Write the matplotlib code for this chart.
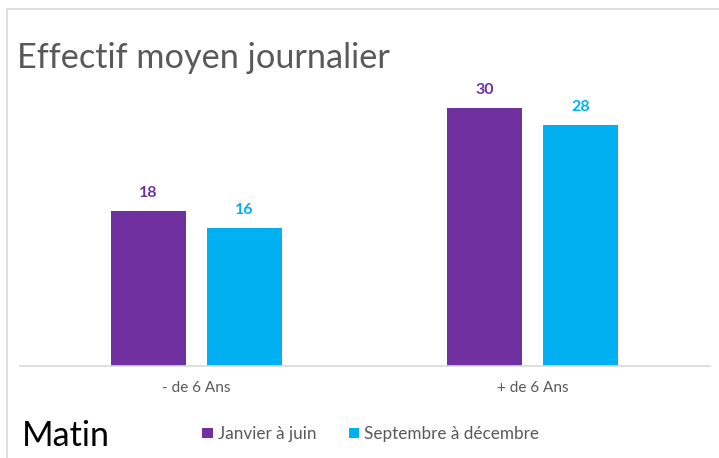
import matplotlib
matplotlib.use("Agg")
import matplotlib.pyplot as plt
from matplotlib.patches import Rectangle
import numpy as np

categories = ["- de 6 Ans", "+ de 6 Ans"]
series_names = ["Janvier à juin", "Septembre à décembre"]
janvier = [18, 30]
septembre = [16, 28]
colors = ["#7030A0", "#00B0F0"]

W, H = 719, 458
fig = plt.figure(figsize=(W / 100, H / 100), dpi=100)
plt.rcParams['font.family'] = ['Lato', 'DejaVu Sans']

# chart border
fig.patches.append(Rectangle((7 / W, -0.05), 1.1, (H - 9) / H + 0.05, transform=fig.transFigure,
                             fill=False, edgecolor="#D9D9D9", linewidth=1.2))

ax_left, ax_right, ax_bottom, ax_top = 20, 710, 366, 60
ax = fig.add_axes([ax_left / W, 1 - ax_bottom / H, (ax_right - ax_left) / W, (ax_bottom - ax_top) / H])
ymax = (ax_bottom - ax_top) / 8.6
ax.set_ylim(0, ymax)
ppu = 336.0
x0 = -(196.5 - ax_left) / ppu
ax.set_xlim(x0, x0 + (ax_right - ax_left) / ppu)

x = np.arange(len(categories))
bw = 75 / ppu
gap = 21 / ppu
off = (bw + gap) / 2
b1 = ax.bar(x - off, janvier, bw, color=colors[0], label=series_names[0])
b2 = ax.bar(x + off, septembre, bw, color=colors[1], label=series_names[1])
for bars, vals, c in [(b1, janvier, colors[0]), (b2, septembre, colors[1])]:
    for rect, v in zip(bars, vals):
        ax.annotate(f"{v}", (rect.get_x() + rect.get_width() / 2, v), xytext=(0, 8),
                    textcoords="offset points", ha="center", va="bottom",
                    fontsize=11.5, fontweight="bold", color=c)

for s in ["top", "right", "left"]:
    ax.spines[s].set_visible(False)
ax.spines["bottom"].set_color("#D9D9D9")
ax.spines["bottom"].set_linewidth(1.2)
ax.set_yticks([])
ax.set_xticks(x)
ax.set_xticklabels(categories, fontsize=11, color="#595959")
ax.tick_params(axis="x", length=0, pad=11)

fig.text(17 / W, 1 - 58 / H, "Effectif moyen journalier", fontsize=24.7, color="#595959",
         ha="left", va="center")
fig.text(22 / W, 1 - 436 / H, "Matin", fontsize=24.5, color="black", ha="left", va="center")

leg = fig.legend(handles=[b1, b2], labels=series_names, loc="center left",
                 bbox_to_anchor=(187 / W, 1 - 434 / H), ncol=2, frameon=False,
                 fontsize=12.3, handlelength=0.6, handleheight=0.6, handletextpad=0.3,
                 columnspacing=1.9, labelcolor="#595959")

fig.savefig("out.png", dpi=100)
